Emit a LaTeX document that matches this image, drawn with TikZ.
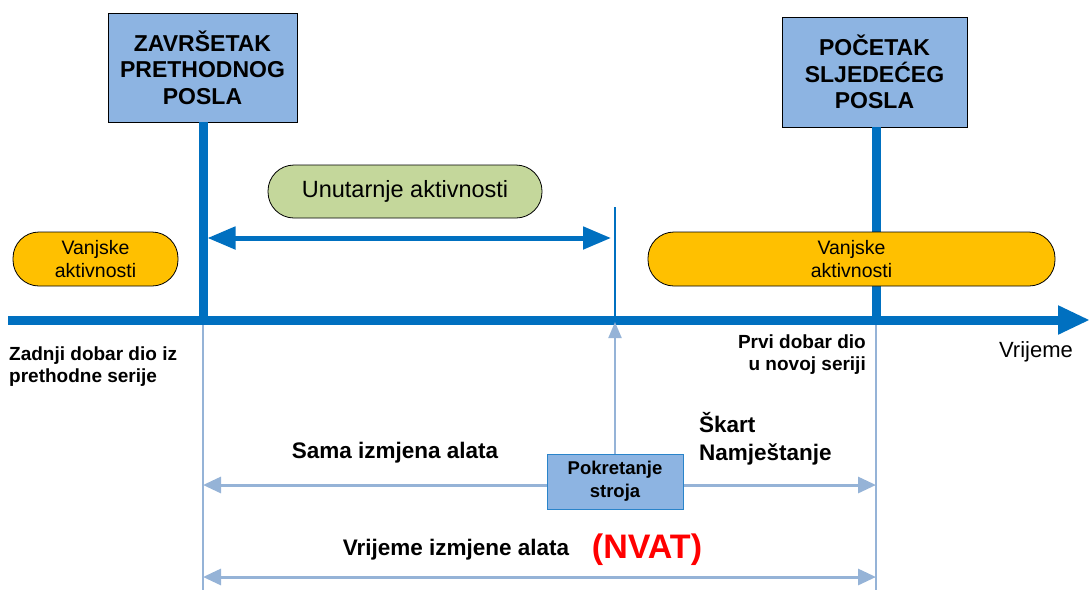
\documentclass[tikz,border=0pt]{standalone}
\usepackage{fontspec}
\setmainfont{Liberation Sans}
\usetikzlibrary{arrows.meta}
\definecolor{dkblue}{HTML}{0070C0}
\definecolor{boxblue}{HTML}{8DB4E2}
\definecolor{ltblue}{HTML}{95B3D7}
\definecolor{pillgreen}{HTML}{C4D79B}
\definecolor{pillorange}{HTML}{FFC000}
\definecolor{nvatred}{HTML}{FF0000}
\tikzset{
  jobbox/.style={draw=black, line width=0.8pt, fill=boxblue, align=center, inner sep=0pt,
    font=\bfseries\fontsize{23}{26.5}\selectfont},
  pill/.style={draw=black, line width=0.8pt, rounded corners=26pt, align=center, inner sep=0pt,
    font=\fontsize{19.5}{23}\selectfont},
  bar/.style={draw=dkblue, line width=9pt},
  thinbar/.style={draw=dkblue, line width=2.5pt},
  guide/.style={draw=ltblue, line width=2pt},
  spanarrow/.style={draw=ltblue, line width=3pt, {Triangle[length=18pt,width=16pt]}-{Triangle[length=18pt,width=16pt]}},
  lbl/.style={inner sep=0pt, font=\bfseries\fontsize{19}{22}\selectfont},
  biglbl/.style={inner sep=0pt, font=\bfseries\fontsize{22.5}{28}\selectfont},
}
\begin{document}
\begin{tikzpicture}[x=1pt,y=-1pt]
\useasboundingbox (0,0) rectangle (1090,590);

% axis coordinates
\coordinate (axs) at (8,320);
\coordinate (axe) at (1090,320);

% job boxes
\node[jobbox, minimum width=189pt, minimum height=109pt] (b1) at (202.5,67.5) {ZAVRŠETAK\\PRETHODNOG\\POSLA};
\node[jobbox, minimum width=185pt, minimum height=110pt] (b2) at (874.5,72) {POČETAK\\SLJEDEĆEG\\POSLA};

\coordinate (t1) at (203,320);
\coordinate (t2) at (876,320);
\coordinate (tm) at (615,320);

% light guides below axis
\coordinate (g1) at (203,590);
\coordinate (g2) at (876,590);
\draw[guide] (t1) -- (g1);
\draw[guide] (t2) -- (g2);

% thick bars
\draw[bar] (b1.south -| t1) -- (t1);
\draw[bar] (b2.south -| t2) -- (t2);

% axis
\draw[dkblue, line width=9pt, -{Triangle[length=32pt,width=27pt]}] (axs) -- (axe);

% thin vertical marker
\coordinate (mtop) at (615,207);
\draw[thinbar] (mtop) -- (tm);

% pills
\node[pill, fill=pillgreen, minimum width=274pt, minimum height=53pt, font=\fontsize{23.5}{27}\selectfont] (ua) at (405,191.5) {Unutarnje aktivnosti};
\node[pill, fill=pillorange, minimum width=165pt, minimum height=54pt] (va1) at (95.5,259) {Vanjske\\aktivnosti};
\node[pill, fill=pillorange, minimum width=407pt, minimum height=54pt] (va2) at (851.5,259) {Vanjske\\aktivnosti};

% internal activity arrow
\coordinate (ia1) at (207.5,238);
\coordinate (ia2) at (611,238);
\draw[dkblue, line width=5pt, {Triangle[length=28pt,width=22pt]}-{Triangle[length=28pt,width=22pt]}] (ia1) -- (ia2);

% span arrows
\coordinate (s1a) at (203,485);
\coordinate (s1b) at (876,485);
\draw[spanarrow] (s1a) -- (s1b);
\coordinate (s2a) at (203,577);
\coordinate (s2b) at (876,577);
\draw[spanarrow] (s2a) -- (s2b);

% machine start box
\node[draw=dkblue!70!boxblue, line width=1pt, fill=boxblue, minimum width=136pt, minimum height=55pt, align=center, inner sep=0pt,
  font=\bfseries\fontsize{18.5}{23}\selectfont] (ps) at (615,481.5) {Pokretanje\\stroja};
\draw[draw=ltblue, line width=2pt, -{Triangle[length=16pt,width=13pt]}] (ps.north) -- ([yshift=-2pt]tm);

% labels
\node[lbl, anchor=north west, align=left] (zd) at (9,347) {Zadnji dobar dio iz\\prethodne serije};
\node[lbl, anchor=north east, align=right] (pd) at (866,335) {Prvi dobar dio\\u novoj seriji};
\node[inner sep=0pt, font=\fontsize{22}{26}\selectfont] (vr) at (1036,352) {Vrijeme};
\node[biglbl] (si) at (395,453) {Sama izmjena alata};
\node[biglbl, anchor=west, align=left] (sk) at (699,439) {Škart\\Namještanje};
\node[biglbl] (vi) at (456,550) {Vrijeme izmjene alata};
\node[inner sep=0pt, text=nvatred, font=\bfseries\fontsize{34}{40}\selectfont] (nv) at (647,550) {(NVAT)};
\end{tikzpicture}
\end{document}
